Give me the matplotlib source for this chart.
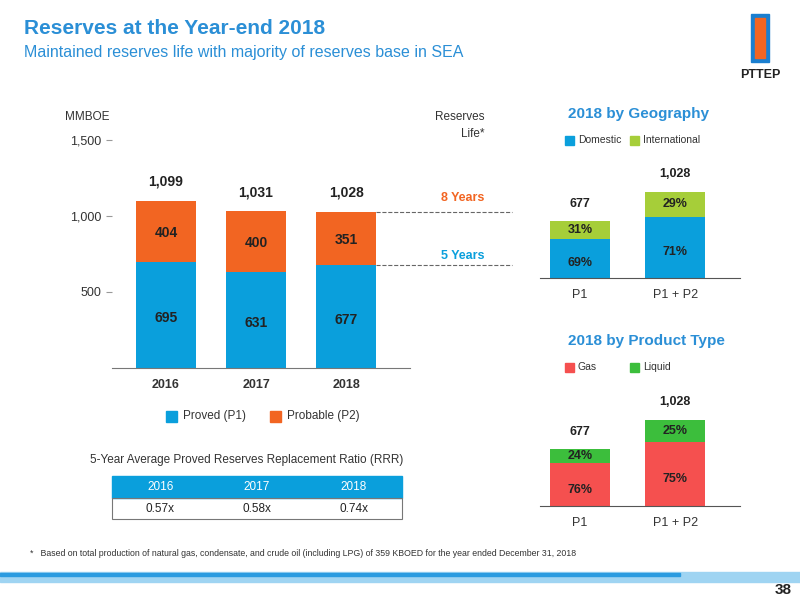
import matplotlib.pyplot as plt
from matplotlib.patches import Rectangle

years = ['2016', '2017', '2018']
proved = [695, 631, 677]
probable = [404, 400, 351]
totals = [1099, 1031, 1028]
life_8 = 1028
life_5 = 677

cats = ['P1', 'P1 + P2']
cat_totals = [677, 1028]
domestic = [69, 71]
international = [31, 29]
gas = [76, 75]
liquid = [24, 25]

rrr_years = ['2016', '2017', '2018']
rrr_vals = ['0.57x', '0.58x', '0.74x']

BLUE = '#0a9fdc'
ORANGE = '#f26522'
LIME = '#a6ce39'
RED = '#f5504f'
GREEN = '#3cbe3c'
TITLE = '#2b8fd6'
W, H = 800, 600

fig = plt.figure(figsize=(8, 6), dpi=100)
plt.rcParams['font.family'] = ['Liberation Sans', 'DejaVu Sans']

def ax_px(l, t, r, b):
    return fig.add_axes([l / W, 1 - b / H, (r - l) / W, (b - t) / H])

def ftext(x, y, s, **kw):
    fig.text(x / W, 1 - y / H, s, **kw)

# header
ftext(24, 28, 'Reserves at the Year-end 2018', fontsize=15, color=TITLE, weight='bold', va='center')
ftext(24, 52, 'Maintained reserves life with majority of reserves base in SEA', fontsize=11.5, color=TITLE, va='center')
ftext(760, 75, 'PTTEP', fontsize=9, weight='bold', ha='center', va='center', color='#222')
fig.patches.append(Rectangle((755 / W, 1 - 58 / H), 10 / W, 40 / H, transform=fig.transFigure,
                             color=ORANGE, zorder=3))
fig.patches.append(Rectangle((751 / W, 1 - 62 / H), 18 / W, 48 / H, transform=fig.transFigure,
                             color='#1a7fd0', zorder=2))

# main chart
ax = ax_px(112, 140, 410, 368)
x = range(len(years))
ax.bar(x, proved, width=0.67, color=BLUE)
ax.bar(x, probable, width=0.67, bottom=proved, color=ORANGE)
for i in x:
    ax.text(i, proved[i] / 2 - 20, str(proved[i]), ha='center', va='center', fontsize=10, weight='bold', color='#222')
    ax.text(i, proved[i] + probable[i] / 2 - 10, str(probable[i]), ha='center', va='center', fontsize=10, weight='bold', color='#222')
    ax.text(i, totals[i] + 80, f'{totals[i]:,}', ha='center', va='bottom', fontsize=10, weight='bold', color='#222')
ax.set_xlim(-0.6, 2.71)
ax.set_ylim(0, 1500)
ax.set_yticks([500, 1000, 1500])
ax.set_yticklabels(['500', '1,000', '1,500'], fontsize=9, color='#333')
ax.set_xticks(list(x))
ax.set_xticklabels(years, fontsize=9, weight='bold', color='#333')
ax.tick_params(axis='x', length=0, pad=8)
ax.tick_params(axis='y', length=4, color='#999')
for s in ['top', 'right', 'left']:
    ax.spines[s].set_visible(False)
ax.spines['bottom'].set_color('#777')
ax.plot([2.33, 3.84], [life_8, life_8], ls='--', color='#666', lw=0.8, clip_on=False)
ax.plot([2.33, 3.84], [life_5, life_5], ls='--', color='#666', lw=0.8, clip_on=False)
ax.text(3.3, life_8 + 70, '8 Years', color=ORANGE, fontsize=9, weight='bold', ha='center')
ax.text(3.3, life_5 + 40, '5 Years', color=BLUE, fontsize=9, weight='bold', ha='center')
ftext(65, 117, 'MMBOE', fontsize=8.5, color='#333', va='center')
ftext(484, 117, 'Reserves', fontsize=8.5, color='#333', va='center', ha='right')
ftext(484, 134, 'Life*', fontsize=8.5, color='#333', va='center', ha='right')

# main legend
for px, lab in [(166, 'Proved (P1)'), (270, 'Probable (P2)')]:
    col = BLUE if 'P1' in lab else ORANGE
    fig.patches.append(Rectangle((px / W, 1 - 422 / H), 11 / W, 11 / H, transform=fig.transFigure, color=col))
    ftext(px + 17, 416, lab, fontsize=8.5, color='#333', va='center')

# RRR table
ftext(90, 460, '5-Year Average Proved Reserves Replacement Ratio (RRR)', fontsize=8.5, color='#333', va='center')
fig.patches.append(Rectangle((112 / W, 1 - 498 / H), 290 / W, 22 / H, transform=fig.transFigure, color=BLUE))
fig.patches.append(Rectangle((112 / W, 1 - 519 / H), 290 / W, 21 / H, transform=fig.transFigure,
                             fill=False, ec='#777', lw=0.8))
for j in range(3):
    cx = 112 + 290 / 6 * (2 * j + 1)
    ftext(cx, 487, rrr_years[j], fontsize=8.5, color='white', ha='center', va='center')
    ftext(cx, 509, rrr_vals[j], fontsize=8.5, color='#222', ha='center', va='center')

# small charts
def small(top, bottom, lower, upper, c1, c2, title, l1, l2, ty):
    a = ax_px(540, top, 740, bottom)
    a.bar([0, 1], cat_totals, width=0.63, color=c1)
    lo = [t * p / 100 for t, p in zip(cat_totals, lower)]
    a.bar([0, 1], [t - v for t, v in zip(cat_totals, lo)], bottom=lo, width=0.63, color=c2)
    for i in range(2):
        a.text(i, lo[i] / 2 - 60, f'{lower[i]}%', ha='center', va='center', fontsize=9, weight='bold', color='#222')
        a.text(i, (lo[i] + cat_totals[i]) / 2, f'{upper[i]}%', ha='center', va='center', fontsize=9, weight='bold', color='#222')
        a.text(i, cat_totals[i] + 140, f'{cat_totals[i]:,}', ha='center', va='bottom', fontsize=9, weight='bold', color='#222')
    a.set_xlim(-0.42, 1.68)
    a.set_ylim(0, 1650)
    a.set_yticks([])
    a.set_xticks([0, 1])
    a.set_xticklabels(cats, fontsize=9, color='#333')
    a.tick_params(axis='x', length=0, pad=8)
    for s in ['top', 'right', 'left']:
        a.spines[s].set_visible(False)
    a.spines['bottom'].set_color('#555')
    ftext(568, ty, title, fontsize=11, color=TITLE, weight='bold', va='center')
    for px, lab, col in [(565, l1, c1), (630, l2, c2)]:
        fig.patches.append(Rectangle((px / W, 1 - (ty + 31) / H), 9 / W, 9 / H, transform=fig.transFigure, color=col))
        ftext(px + 13, ty + 26, lab, fontsize=7.5, color='#333', va='center')

small(140, 278, domestic, international, BLUE, LIME, '2018 by Geography', 'Domestic', 'International', 114)
small(368, 506, gas, liquid, RED, GREEN, '2018 by Product Type', 'Gas', 'Liquid', 341)

# footer
ftext(30, 553, '*   Based on total production of natural gas, condensate, and crude oil (including LPG) of 359 KBOED for the year ended December 31, 2018',
      fontsize=6.3, color='#333', va='center')
fig.patches.append(Rectangle((0, 1 - 582 / H), 1, 10 / H, transform=fig.transFigure, color='#9fd4f2'))
fig.patches.append(Rectangle((0, 1 - 576 / H), 0.85, 3 / H, transform=fig.transFigure, color='#2b9be0'))
ftext(792, 590, '38', fontsize=11, weight='bold', color='#222', ha='right', va='center')

fig.savefig('out.png', dpi=100)
